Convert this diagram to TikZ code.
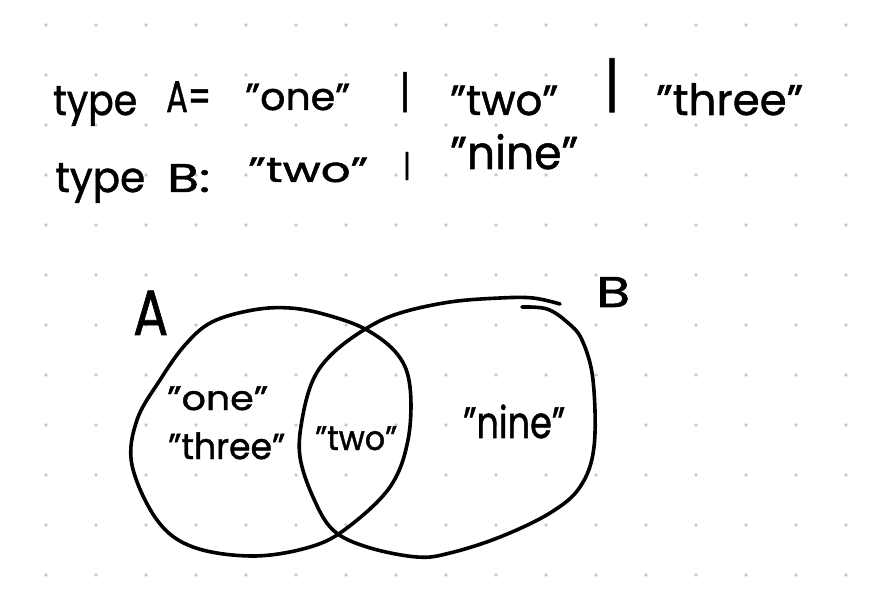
\documentclass[tikz,border=0pt]{standalone}
\usepackage{fontspec}
\setmainfont{Poppins}[FakeBold=1.2]
\newfontfamily\barfont{Liberation Sans}[FakeBold=1.2]
\newcommand{\hw}[3]{\resizebox{#1pt}{\height}{\fontsize{#2pt}{#2pt}\selectfont #3}}
\newcommand{\hwbar}[1]{{\barfont\fontsize{#1pt}{#1pt}\selectfont |}}
\tikzset{
  hand/.style={line width=3.6pt, line cap=round, line join=round, black},
  txt/.style={inner sep=0pt, anchor=base west, text=black},
  bar/.style={inner sep=0pt, anchor=base, text=black},
}
\definecolor{dotc}{RGB}{200,200,200}
\begin{document}
\begin{tikzpicture}[x=1pt,y=-1pt]
\useasboundingbox (0,0) rectangle (876,612);
\fill[white] (0,0) rectangle (876,612);
% dot grid
\foreach \i in {0,...,16}{
  \foreach \j in {0,...,11}{
    \fill[dotc] ({46+50*\i},{25+50*\j}) circle (1.8pt);
  }
}
% line 1
\node[txt] (t1) at (53,115) {\hw{84}{42}{type}};
\node[txt] (t2) at (166,112) {\hw{45}{44}{A=}};
\node[txt] (t3) at (245,110) {\hw{105}{38}{"one"}};
\node[bar] (t4) at (405,103) {\hwbar{42.6}};
\node[txt] (t5) at (450,115) {\hw{108}{42}{"two"}};
\node[bar] (t6) at (612,100) {\hwbar{57.6}};
\node[txt] (t7) at (656,115) {\hw{147}{43}{"three"}};
% line 2
\node[txt] (u1) at (55,192) {\hw{90}{42}{type}};
\node[txt] (u2) at (167,192) {\hw{43}{40}{B:}};
\node[txt] (u3) at (248,182) {\hw{120}{35}{"two"}};
\node[bar] (u4) at (407,173.7) {\hwbar{30}};
\node[txt] (u5) at (450,169) {\hw{128}{46}{"nine"}};
% set A
\draw[hand] plot[smooth cycle, tension=0.6] coordinates {
  (290,308) (327,315) (367,330) (398,355) (410,387) (408,440) (390,487)
  (347,528) (310,547) (253,556) (193,547) (157,520) (132,465) (137,420)
  (160,380) (185,345) (212,322) (253,310)};
% set B
\draw[hand] plot[smooth, tension=0.6] coordinates {
  (522,307) (547,309) (567,322) (582,340) (593,380) (594,447) (580,487)
  (550,513) (500,537) (450,553) (417,557) (367,547) (333,530) (313,497)
  (300,457) (302,420) (313,380) (333,353) (367,328) (400,313) (450,302)
  (500,298) (533,298) (560,304)};
% venn labels
\node[txt] (lA) at (133,335) {\hw{35}{64}{A}};
\node[txt] (lB) at (596,307) {\hw{34}{43}{B}};
\node[txt] (v1) at (167,410) {\hw{101}{34}{"one"}};
\node[txt] (v2) at (168,459) {\hw{117}{36}{"three"}};
\node[txt] (v3) at (315,450) {\hw{82}{34}{"two"}};
\node[txt] (v4) at (463,438) {\hw{102}{44}{"nine"}};
\end{tikzpicture}
\end{document}
